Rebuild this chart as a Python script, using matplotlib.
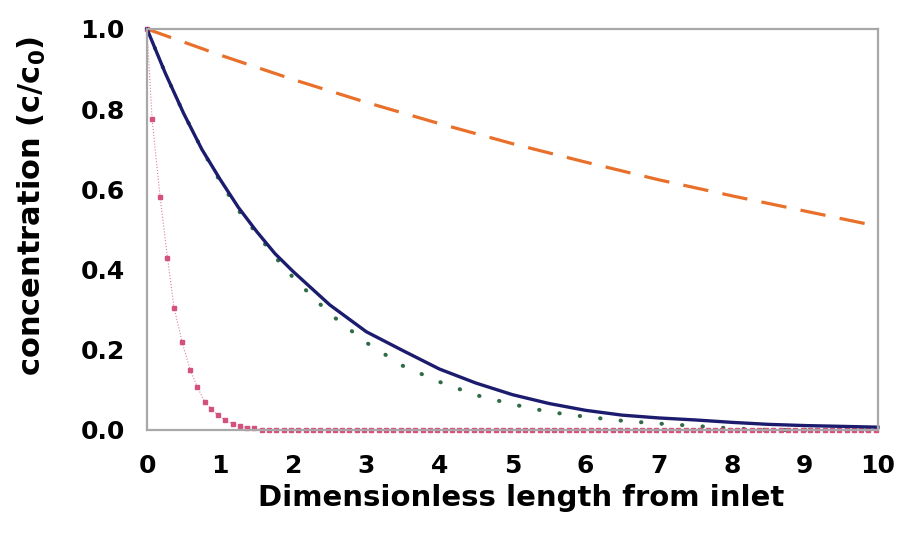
import matplotlib.pyplot as plt
import numpy as np

plt.rcParams['font.family'] = ['DejaVu Sans']
plt.rcParams['font.weight'] = 'bold'
plt.rcParams['mathtext.fontset'] = 'custom'
plt.rcParams['mathtext.rm'] = 'DejaVu Sans:bold'
plt.rcParams['mathtext.it'] = 'DejaVu Sans:bold'
plt.rcParams['mathtext.bf'] = 'DejaVu Sans:bold'

# orange dashed curve
orange_x = [0, 1, 2, 3, 4, 5, 6, 7, 8, 9, 10]
orange_y = [1.0, 0.935, 0.874, 0.817, 0.764, 0.714, 0.668, 0.624, 0.584, 0.546, 0.508]

# navy solid curve
blue_x = [0, 0.25, 0.5, 0.75, 1, 1.25, 1.5, 1.75, 2, 2.5, 3, 3.5, 4, 4.5, 5, 5.5,
          6, 6.5, 7, 7.5, 8, 8.5, 9, 9.5, 10]
blue_y = [1.0, 0.89, 0.79, 0.70, 0.625, 0.555, 0.495, 0.44, 0.395, 0.312, 0.245, 0.198,
          0.152, 0.117, 0.088, 0.066, 0.049, 0.037, 0.030, 0.025, 0.019, 0.014, 0.011,
          0.009, 0.007]

# green dotted curve
green_x = [0, 0.25, 0.5, 0.75, 1, 1.25, 1.5, 1.75, 2, 2.5, 3, 3.5, 4, 4.5, 5, 5.5,
           6, 6.5, 7, 7.5, 8, 8.5, 9, 9.5, 10]
green_y = [1.0, 0.89, 0.79, 0.70, 0.62, 0.548, 0.49, 0.432, 0.38, 0.29, 0.218, 0.16,
           0.12, 0.087, 0.064, 0.045, 0.033, 0.023, 0.016, 0.010, 0.004, 0.0, 0.0,
           0.0, 0.0]

# pink markers (steep decay, then flat at zero)
pink_head_x = [0, 0.07, 0.18, 0.28, 0.37, 0.48, 0.59, 0.69, 0.79, 0.88, 0.97, 1.07, 1.17, 1.27, 1.37, 1.47]
pink_head_y = [1.0, 0.775, 0.58, 0.43, 0.305, 0.22, 0.15, 0.107, 0.07, 0.052, 0.037, 0.025, 0.015, 0.01, 0.006, 0.004]
pink_tail_x = list(np.round(np.arange(1.57, 10.01, 0.1), 2))
pink_tail_y = [0.0] * len(pink_tail_x)
pink_x = pink_head_x + pink_tail_x
pink_y = pink_head_y + pink_tail_y

xticks = [0, 1, 2, 3, 4, 5, 6, 7, 8, 9, 10]
yticks = [0.0, 0.2, 0.4, 0.6, 0.8, 1.0]

fig = plt.figure(figsize=(8.98, 5.46), dpi=100)
ax = fig.add_axes([0.1637, 0.2125, 0.9777 - 0.1637, 0.9469 - 0.2125])

ax.plot(orange_x, orange_y, color='#e8702a', linewidth=2.3, linestyle=(0, (8, 4.5)), clip_on=False)
ax.plot(green_x, green_y, color='#2f6b45', linewidth=2.9, linestyle=(0, (0.1, 5.0)),
        dash_capstyle='round', clip_on=False)
ax.plot(pink_x, pink_y, color='#e07aa0', linewidth=0.8, linestyle=':', marker='s',
        markersize=3.2, markerfacecolor='#d4507f', markeredgecolor='#d4507f', clip_on=False)
ax.plot(blue_x, blue_y, color='#1c1c6e', linewidth=2.4, clip_on=False)

ax.set_xlim(0, 10)
ax.set_ylim(0, 1)
ax.set_xticks(xticks)
ax.set_yticks(yticks)
ax.set_xticklabels([str(t) for t in xticks])
ax.set_yticklabels(['%.1f' % t for t in yticks])
ax.tick_params(axis='both', length=0, labelsize=18)
ax.tick_params(axis='x', pad=17)
ax.tick_params(axis='y', pad=16)

for s in ax.spines.values():
    s.set_color('#a8a8a8')
    s.set_linewidth(1.6)

ax.set_xlabel('Dimensionless length from inlet', fontsize=21, fontweight='bold')
ax.set_ylabel('concentration (c/c$_0$)', fontsize=22, fontweight='bold')
ax.xaxis.set_label_coords(0.512, -0.135)
ax.yaxis.set_label_coords(-0.136, 0.559)

fig.savefig('out.png', dpi=100)
